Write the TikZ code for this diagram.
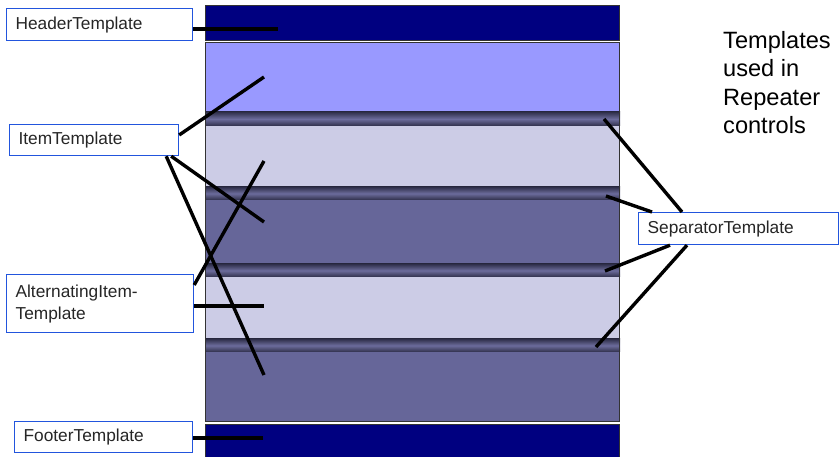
\documentclass[tikz,border=0pt]{standalone}
\usepackage{fontspec}
\setmainfont{Liberation Sans}
\usepackage{xcolor}
\usepackage{tikz}
\usetikzlibrary{calc}
\definecolor{hnavy}{HTML}{000080}
\definecolor{iblue}{HTML}{9999FF}
\definecolor{ialt}{HTML}{CCCCE6}
\definecolor{idark}{HTML}{666699}
\definecolor{sdark}{HTML}{2F2F4A}
\definecolor{smid}{HTML}{6C6C9C}
\definecolor{bframe}{HTML}{2255DD}
\tikzstyle{tmplbox} = [rectangle, draw=bframe, line width=1.2pt, fill=white, anchor=north west, align=left, inner xsep=9pt, inner ysep=0pt, text=black!85, font=\fontsize{17.3}{22}\selectfont]
\tikzstyle{band} = [draw=black!80, line width=1pt]
\tikzstyle{sepband} = [top color=sdark, bottom color=sdark, middle color=smid]
\tikzstyle{pointer} = [draw, black, line width=3.4pt]

\begin{document}
\begin{tikzpicture}[x=1pt, y=-1pt]
    \useasboundingbox (0,0) rectangle (839,457);

    % bands
    \filldraw[band, fill=hnavy] (205,6) rectangle (619,41);
    \fill[iblue] (205,43) rectangle (619,112);
    \fill[ialt] (205,126) rectangle (619,187);
    \fill[idark] (205,200) rectangle (619,264);
    \fill[ialt] (205,277) rectangle (619,339);
    \fill[idark] (205,352) rectangle (619,421);
    \shade[sepband] (205,112) rectangle (620,126);
    \shade[sepband] (205,187) rectangle (620,200);
    \shade[sepband] (205,264) rectangle (620,277);
    \shade[sepband] (205,339) rectangle (620,352);
    \draw[band] (205,43) rectangle (619,421);
    \filldraw[band, fill=hnavy] (205,424) rectangle (619,460);

    % labels
    \node[tmplbox, text width=168pt, minimum height=32pt] at (6,8) (hdr) {HeaderTemplate};
    \node[tmplbox, text width=151pt, minimum height=31pt] at (9,124) (itm) {ItemTemplate};
    \node[tmplbox, text width=169pt, minimum height=58pt] at (6,274) (alt) {AlternatingItem-\\Template};
    \node[tmplbox, text width=160pt, minimum height=31pt] at (14,421) (ftr) {FooterTemplate};
    \node[tmplbox, text width=182pt, minimum height=32pt] at (638,212) (sep) {SeparatorTemplate};
    \node[anchor=north west, align=left, inner sep=0pt, font=\fontsize{23.6}{28.4}\selectfont] at (723,31) (title) {Templates\\used in\\Repeater\\controls};

    % ends of the pointers
    \coordinate (hend) at (278,29);
    \coordinate (iend1) at (264,77);
    \coordinate (iend2) at (264,222);
    \coordinate (iend3) at (264,375);
    \coordinate (aend1) at (264,161);
    \coordinate (aend2) at (264,306);
    \coordinate (fend) at (263,438);
    \coordinate (send1) at (604,119);
    \coordinate (send2) at (606,196);
    \coordinate (send3) at (605,271);
    \coordinate (send4) at (596,347);

    % pointers
    \path[pointer] (hdr.east |- hend) -- (hend);
    \path[pointer] ([yshift=-11pt]itm.north east) -- (iend1);
    \path[pointer] ([xshift=-8pt]itm.south east) -- (iend2);
    \path[pointer] ([xshift=-13pt]itm.south east) -- (iend3);
    \path[pointer] ([yshift=-11pt]alt.north east) -- (aend1);
    \path[pointer] (alt.east |- aend2) -- (aend2);
    \path[pointer] (ftr.east |- fend) -- (fend);
    \path[pointer] ([xshift=44pt]sep.north west) -- (send1);
    \path[pointer] ([xshift=14pt]sep.north west) -- (send2);
    \path[pointer] ([xshift=32pt]sep.south west) -- (send3);
    \path[pointer] ([xshift=49pt]sep.south west) -- (send4);
\end{tikzpicture}
\end{document}
